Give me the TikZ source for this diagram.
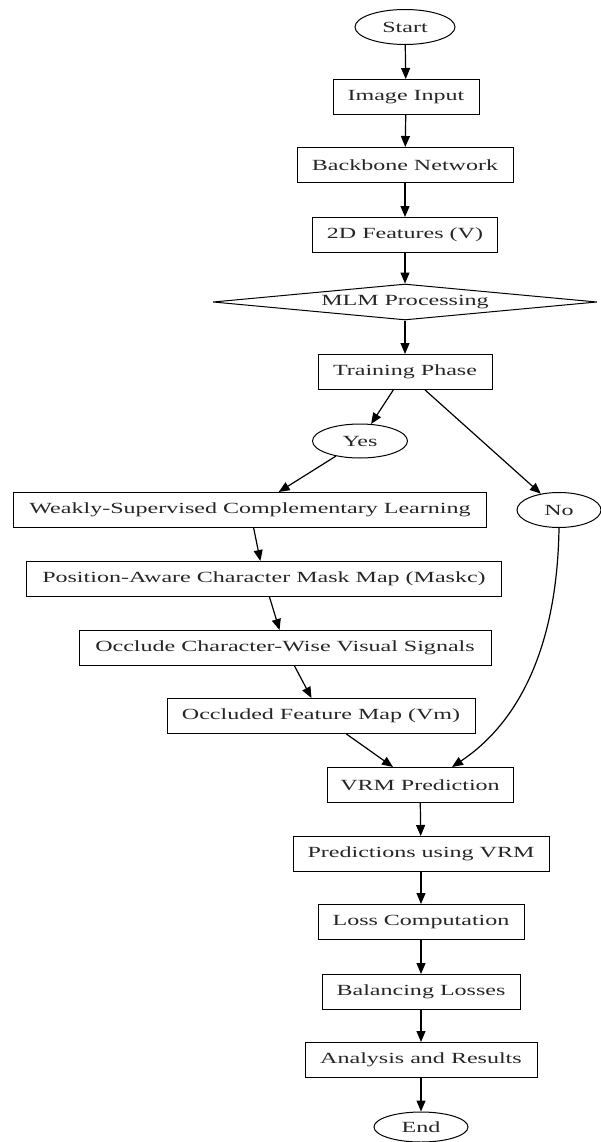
\documentclass[tikz,border=0pt]{standalone}
\usepackage{fontspec}
\setmainfont{Liberation Serif}[FakeStretch=1.55]
\usepackage{tikz}
\usetikzlibrary{shapes.geometric}
\usetikzlibrary{arrows.meta}
\begin{document}
\begin{tikzpicture}[x=1pt,y=-1pt]

\tikzset{stepbox/.style={draw, line width=1pt, minimum height=35pt,
    minimum width=#1, inner sep=0pt, align=center
  }, stepbox/.default=150pt,
  terminal/.style={draw, ellipse, line width=1pt, minimum height=#1,
    inner sep=0pt
  }, terminal/.default=35pt,
  flow/.style={line width=1.2pt, -{Triangle[length=11pt,width=9pt]}},
  every node/.style={font=\fontsize{15.5}{17}\selectfont, text=black!85}
}
\useasboundingbox (0,0) rectangle (600,1142);

\node[terminal, minimum width=100pt] (start) at (405,27) {Start};
\node[stepbox=146pt] (image) at (406,97) {Image Input};
\node[stepbox=216pt] (backbone) at (405,165) {Backbone Network};
\node[stepbox=185pt] (feat) at (405,235) {2D Features (V)};
\node[draw, diamond, line width=1pt, minimum width=384pt, minimum height=36pt,
  inner sep=0pt, aspect=10] (mlm) at (405,302) {MLM Processing};
\node[stepbox=174pt] (train) at (405,372) {Training Phase};
\node[terminal=34pt, minimum width=95pt] (yes) at (360,441) {Yes};
\node[terminal=35pt, minimum width=84pt] (no) at (559,510) {No};
\node[stepbox=473pt] (weak) at (250,510) {Weakly-Supervised Complementary Learning};
\node[stepbox=475pt] (mask) at (264,579) {Position-Aware Character Mask Map (Maskc)};
\node[stepbox=412pt] (occlude) at (285,648) {Occlude Character-Wise Visual Signals};
\node[stepbox=308pt] (occmap) at (321,716) {Occluded Feature Map (Vm)};
\node[stepbox=186pt] (vrm) at (420,785) {VRM Prediction};
\node[stepbox=256pt] (pred) at (421,854) {Predictions using VRM};
\node[stepbox=206pt] (loss) at (421,922) {Loss Computation};
\node[stepbox=198pt] (balance) at (421,992) {Balancing Losses};
\node[stepbox=232pt] (analysis) at (421,1060) {Analysis and Results};
\node[terminal=30pt, minimum width=94pt] (end) at (421,1127) {End};

\draw[flow] (start) -- (image);
\draw[flow] (image) -- (backbone);
\draw[flow] (backbone) -- (feat);
\draw[flow] (feat) -- (mlm);
\draw[flow] (mlm) -- (train);
\draw[flow] (train) -- (yes);
\draw[flow] (train) -- (no);
\draw[flow] (yes) -- (weak);
\draw[flow] (weak) -- (mask);
\draw[flow] (mask) -- (occlude);
\draw[flow] (occlude) -- (occmap);
\draw[flow] (occmap) -- ([xshift=-27pt]vrm.north);
\draw[flow] (no.south) .. controls +(-2,130) and +(60,-40) .. ([xshift=32pt]vrm.north);
\draw[flow] (vrm) -- (pred);
\draw[flow] (pred) -- (loss);
\draw[flow] (loss) -- (balance);
\draw[flow] (balance) -- (analysis);
\draw[flow] (analysis) -- (end);
\end{tikzpicture}
\end{document}
